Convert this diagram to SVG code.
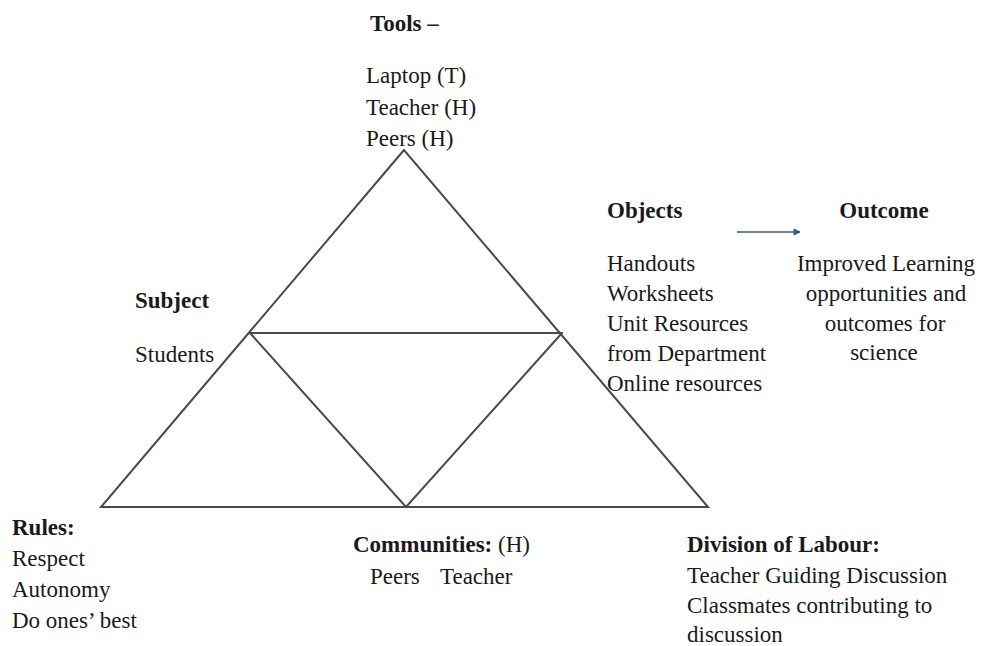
<svg xmlns="http://www.w3.org/2000/svg" width="982" height="646" viewBox="0 0 982 646">
<defs>
<style>
text{font-family:"Liberation Serif","Times New Roman",serif;font-size:23px;fill:#1a1a1a}
.b{font-weight:bold}
.m{text-anchor:middle}
.ln{stroke:#4a4a4a;stroke-width:2;fill:none;stroke-linecap:round}
</style>
<marker id="ah" markerWidth="8" markerHeight="8" refX="7" refY="4" orient="auto" markerUnits="userSpaceOnUse">
<path d="M1,1 L7,4 L1,7 Z" fill="#3a5a7a" stroke="#3a5a7a" stroke-width="1"/>
</marker>
</defs>
<rect width="982" height="646" fill="#fff"/>
<g id="connectors">
<path class="ln" d="M404,150 L101,507 L708,507 Z"/>
<line class="ln" x1="250" y1="333" x2="562" y2="333"/>
<polyline class="ln" points="250,333 406,507 562,333"/>
<line x1="737" y1="232" x2="800" y2="232" stroke="#3a5a7a" stroke-width="1.3" marker-end="url(#ah)"/>
</g>
<g id="tools">
<text class="b" x="370" y="31">Tools –</text>
<text x="366" y="83">Laptop (T)</text>
<text x="366" y="115">Teacher (H)</text>
<text x="366" y="146">Peers (H)</text>
</g>
<g id="objects">
<text class="b" x="607" y="218">Objects</text>
<text x="607" y="271">Handouts</text>
<text x="607" y="301">Worksheets</text>
<text x="607" y="331">Unit Resources</text>
<text x="607" y="361">from Department</text>
<text x="607" y="391">Online resources</text>
</g>
<g id="outcome">
<text class="b m" x="884" y="218">Outcome</text>
<text class="m" x="886" y="271">Improved Learning</text>
<text class="m" x="886" y="301">opportunities and</text>
<text class="m" x="885" y="331">outcomes for</text>
<text class="m" x="884" y="360">science</text>
</g>
<g id="subject">
<text class="b" x="135" y="308">Subject</text>
<text x="135" y="362">Students</text>
</g>
<g id="rules">
<text class="b" x="12" y="535">Rules:</text>
<text x="12" y="566">Respect</text>
<text x="12" y="597">Autonomy</text>
<text x="12" y="628">Do ones’ best</text>
</g>
<g id="communities">
<text x="353" y="552"><tspan class="b">Communities:</tspan> (H)</text>
<text y="584"><tspan x="370">Peers</tspan><tspan x="440">Teacher</tspan></text>
</g>
<g id="division">
<text class="b" x="687" y="552">Division of Labour:</text>
<text x="687" y="583">Teacher Guiding Discussion</text>
<text x="687" y="613">Classmates contributing to</text>
<text x="687" y="642">discussion</text>
</g>
</svg>
